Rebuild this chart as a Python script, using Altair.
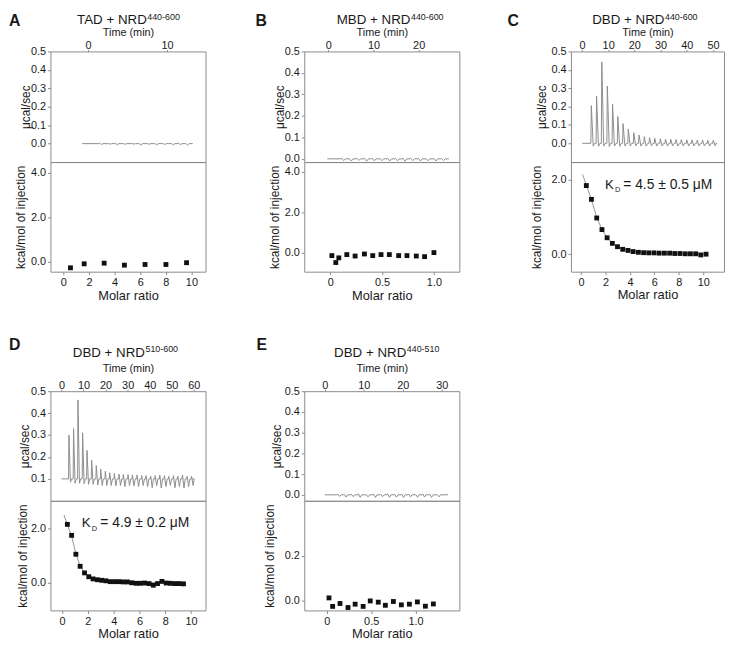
import altair as alt
import pandas as pd

FONT = "Liberation Sans"
FRAME = "#8a8a8a"
TRACE = "#8c8c8c"
FIT = "#8a8a8a"
TXT = "#1a1a1a"
PT = "#111111"

# ---------------- data ----------------
# Panel A  (TAD + NRD440-600)
A_inj_t = [1.4, 2.5, 3.4, 4.4, 5.5, 6.4, 7.4, 8.4, 9.4, 10.5, 11.4, 12.3]
A_inj_peak = [0.002, 0.001, 0.002, 0.001, 0.002, 0.001, 0.002, 0.001, 0.002, 0.001, 0.002, 0.001]
A_inj_dip = [-0.004, -0.003, -0.006, -0.004, -0.003, -0.008, -0.004, -0.006, -0.005, -0.007, -0.005, -0.008]
A_ratio = [0.56, 1.63, 3.19, 4.77, 6.38, 8.01, 9.62]
A_heat = [-0.27, -0.09, -0.06, -0.15, -0.12, -0.12, -0.04]

# Panel B  (MBD + NRD440-600)
B_inj_t = [2.8, 4.5, 6.2, 7.9, 9.6, 11.3, 13.0, 14.7, 16.4, 18.1, 19.8, 21.5, 23.2, 24.9]
B_inj_peak = [0.004, 0.002, 0.003, 0.002, 0.003, 0.002, 0.003, 0.002, 0.003, 0.002, 0.003, 0.002, 0.003, 0.002]
B_inj_dip = [-0.008, -0.010, -0.007, -0.011, -0.009, -0.008, -0.010, -0.009, -0.011, -0.008, -0.010, -0.009, -0.010, -0.008]
B_ratio = [0.016, 0.054, 0.083, 0.16, 0.24, 0.33, 0.41, 0.49, 0.57, 0.66, 0.74, 0.83, 0.91, 1.0]
B_heat = [-0.13, -0.47, -0.24, -0.08, -0.15, -0.05, -0.13, -0.08, -0.08, -0.13, -0.13, -0.15, -0.18, 0.02]

# Panel C  (DBD + NRD440-600)
C_inj_t = [3.4, 5.4, 7.4, 9.5, 11.5, 13.5, 15.5, 17.5, 19.6, 21.6, 23.6, 25.6,
           27.6, 29.7, 31.7, 33.7, 35.7, 37.7, 39.8, 41.8, 43.8, 45.8, 47.8, 49.9]
C_inj_peak = [0.205, 0.258, 0.443, 0.312, 0.214, 0.146, 0.107, 0.078, 0.058, 0.045, 0.036, 0.031,
              0.027, 0.025, 0.023, 0.022, 0.021, 0.020, 0.019, 0.019, 0.018, 0.018, 0.017, 0.017]
C_inj_dip = [-0.015, -0.016, -0.015, -0.017, -0.015, -0.016, -0.015, -0.015, -0.014, -0.015, -0.015, -0.014,
             -0.015, -0.014, -0.015, -0.014, -0.015, -0.014, -0.015, -0.014, -0.015, -0.014, -0.015, -0.014]
C_ratio = [0.43, 0.85, 1.28, 1.71, 2.13, 2.56, 2.98, 3.41, 3.84, 4.26, 4.69, 5.12,
           5.54, 5.97, 6.39, 6.82, 7.25, 7.67, 8.10, 8.53, 8.95, 9.38, 9.80, 10.23]
C_heat = [1.84, 1.47, 0.97, 0.66, 0.44, 0.29, 0.20, 0.13, 0.10, 0.07, 0.05, 0.04,
          0.035, 0.035, 0.027, 0.027, 0.027, 0.018, 0.018, 0.01, 0.01, 0.01, -0.02, 0.0]
C_fit_x = [0.12, 0.43, 0.85, 1.28, 1.71, 2.13, 2.56, 2.98, 3.5, 4.2, 5.0, 6.0, 7.0, 8.0, 9.0, 10.23]
C_fit_y = [2.14, 1.86, 1.46, 0.99, 0.66, 0.44, 0.29, 0.20, 0.13, 0.08, 0.05, 0.03, 0.02, 0.015, 0.01, 0.005]

# Panel D  (DBD + NRD510-600)
D_inj_t = [3.2, 5.3, 7.3, 9.4, 11.4, 13.5, 15.6, 17.6, 19.7, 21.7, 23.8, 25.9, 27.9, 30.0,
           32.0, 34.1, 36.2, 38.2, 40.3, 42.3, 44.4, 46.5, 48.5, 50.6, 52.6, 54.7, 56.8, 58.8]
D_inj_peak = [0.30, 0.33, 0.46, 0.31, 0.23, 0.185, 0.16, 0.145, 0.135, 0.128, 0.125, 0.122, 0.12, 0.12,
              0.118, 0.118, 0.115, 0.115, 0.112, 0.115, 0.118, 0.115, 0.112, 0.115, 0.112, 0.118, 0.112, 0.112]
D_inj_dip = [0.085, 0.08, 0.08, 0.078, 0.075, 0.075, 0.072, 0.07, 0.07, 0.07, 0.068, 0.07, 0.065, 0.07,
             0.068, 0.065, 0.07, 0.065, 0.06, 0.068, 0.058, 0.065, 0.07, 0.06, 0.065, 0.058, 0.065, 0.07]
D_ratio = [0.41, 0.74, 1.07, 1.40, 1.74, 2.07, 2.40, 2.74, 3.07, 3.40, 3.74, 4.07, 4.40, 4.74,
           5.07, 5.40, 5.74, 6.07, 6.40, 6.74, 7.07, 7.40, 7.74, 8.07, 8.40, 8.74, 9.07, 9.41]
D_heat = [2.14, 1.74, 1.05, 0.61, 0.37, 0.23, 0.15, 0.12, 0.10, 0.08, 0.05, 0.05, 0.05, 0.04,
          0.04, 0.01, -0.01, -0.01, 0.0, -0.02, -0.08, -0.02, 0.06, 0.0, -0.01, -0.02, -0.02, -0.03]
D_fit_x = [0.15, 0.41, 0.74, 1.07, 1.40, 1.74, 2.07, 2.40, 2.74, 3.4, 4.4, 5.4, 6.4, 7.4, 8.4, 9.41]
D_fit_y = [2.48, 2.12, 1.72, 1.07, 0.62, 0.38, 0.24, 0.16, 0.11, 0.07, 0.04, 0.02, 0.01, 0.01, 0.0, 0.0]

# Panel E  (DBD + NRD440-510)
E_inj_t = [3.2, 4.9, 6.7, 8.5, 10.5, 12.4, 14.2, 16.0, 17.8, 19.6, 21.4, 23.2, 25.0, 26.8, 28.7]
E_inj_peak = [0.004, 0.002, 0.003, 0.005, 0.002, 0.004, 0.003, 0.005, 0.002, 0.004, 0.003, 0.002, 0.004, 0.003, 0.002]
E_inj_dip = [-0.008, -0.011, -0.009, -0.012, -0.010, -0.013, -0.009, -0.012, -0.011, -0.013, -0.010, -0.012, -0.011, -0.013, -0.010]
E_ratio = [0.026, 0.067, 0.15, 0.24, 0.32, 0.41, 0.49, 0.58, 0.66, 0.75, 0.84, 0.93, 1.02, 1.11, 1.2]
E_heat = [0.012, -0.026, -0.013, -0.031, -0.016, -0.026, -0.0015, -0.007, -0.021, -0.004, -0.019, -0.016, -0.006, -0.025, -0.015]

ONE = pd.DataFrame({"k": [0]})


def trace_df(t0, t1, base, inj_t, inj_peak, inj_dip, w):
    ts, ps = [t0], [base]
    for t, h, d in zip(inj_t, inj_peak, inj_dip):
        ts += [t, t + 0.12 * w, t + 0.6 * w, t + w]
        ps += [base, h, d, base]
    ts.append(t1)
    ps.append(base)
    return pd.DataFrame({"t": ts, "p": ps, "i": list(range(len(ts)))})


def ax(**kw):
    base = dict(grid=False, domain=False, tickColor=FRAME, tickWidth=1,
                labelFont=FONT, labelFontSize=11, labelColor=TXT,
                titleFont=FONT, titleFontWeight="normal", titleColor=TXT)
    base.update(kw)
    return alt.Axis(**base)


def txt(s, x, y, size, weight="normal", align="left", baseline="top"):
    return alt.Chart(ONE).mark_text(
        text=s, font=FONT, fontSize=size, fontWeight=weight, align=align,
        baseline=baseline, color=TXT
    ).encode(x=alt.value(x), y=alt.value(y))


def heading(letter, lx, ly, main, sup, jx, my, sy):
    return [txt(letter, lx, ly, 16, weight="bold"),
            txt(main, jx, my, 13.5, align="right"),
            txt(sup, jx + 0.5, sy, 9)]


def top_panel(df, xdom, xticks, ydom, yticks, ytx, tty, texts, w, h):
    line = alt.Chart(df).mark_line(color=TRACE, strokeWidth=1).encode(
        x=alt.X("t:Q", scale=alt.Scale(domain=xdom, nice=False, zero=False),
                axis=ax(orient="top", values=xticks, format="d", title="Time (min)",
                        tickSize=2, labelPadding=0.5, labelBaseline="alphabetic",
                        titleFontSize=11, titleY=tty, titleBaseline="alphabetic")),
        y=alt.Y("p:Q", scale=alt.Scale(domain=ydom, nice=False, zero=False),
                axis=ax(orient="left", values=yticks, format=".1f", title="μcal/sec",
                        tickSize=3, labelPadding=2, titleFontSize=12,
                        titleX=ytx, titleBaseline="alphabetic")),
        order="i:Q",
    )
    return alt.layer(line, *texts).properties(width=w, height=h)


def bottom_panel(rx, ry, xdom, xticks, ydom, yticks, ytx, mty, w, h,
                 fit=None, texts=(), decimal_x=False):
    if decimal_x:
        lab = "datum.value == 0 ? '0' : format(datum.value, '.1f')"
    else:
        lab = "format(datum.value, 'd')"
    xenc = alt.X("x:Q", scale=alt.Scale(domain=xdom, nice=False, zero=False),
                 axis=ax(orient="bottom", values=xticks, labelExpr=lab, title="Molar ratio",
                         tickSize=3, labelPadding=2, titleFontSize=13,
                         titleY=mty, titleBaseline="alphabetic"))
    yenc = alt.Y("y:Q", scale=alt.Scale(domain=ydom, nice=False, zero=False),
                 axis=ax(orient="left", values=yticks, format=".1f",
                         title="kcal/mol of injection", tickSize=3, labelPadding=2,
                         titleFontSize=12, titleX=ytx, titleBaseline="alphabetic"))
    layers = []
    if fit is not None:
        fdf = pd.DataFrame({"x": fit[0], "y": fit[1]})
        layers.append(alt.Chart(fdf).mark_line(color=FIT, strokeWidth=0.9).encode(x=xenc, y=yenc))
    pdf = pd.DataFrame({"x": rx, "y": ry})
    layers.append(alt.Chart(pdf).mark_point(shape="square", filled=True, size=24,
                                            color=PT, opacity=1).encode(x=xenc, y=yenc))
    layers += list(texts)
    return alt.layer(*layers).properties(width=w, height=h)


def blank(w, h):
    return alt.Chart(ONE).mark_point(opacity=0, size=1).encode(
        x=alt.value(0), y=alt.value(0)
    ).properties(width=w, height=h, view=alt.ViewBackground(stroke="transparent"))


def kd(label, kx, ky, sx, sy, ex):
    return [txt("K", kx, ky, 13.5, baseline="alphabetic"),
            txt("D", sx, sy, 7.5, baseline="alphabetic"),
            txt(label, ex, ky, 14, baseline="alphabetic")]


TOP_Y = [0.0, 0.1, 0.2, 0.3, 0.4, 0.5]
R1 = -39     # heading top, first row (relative to plot top)

A_top = top_panel(trace_df(-0.75, 13.25, 0.0, A_inj_t, A_inj_peak, A_inj_dip, 0.5),
                  [-4.75, 14.87], [0, 10], [-0.1, 0.5], TOP_Y, -21, -16,
                  heading("A", -42, R1, "TAD + NRD", "440-600", 97.5, R1, R1), 157, 112)
A_bot = bottom_panel(A_ratio, A_heat, [-1.0, 11.1], [0, 2, 4, 6, 8, 10],
                     [-0.444, 4.49], [0, 2, 4], -26, 28, 157, 111)

B_top = top_panel(trace_df(-0.2, 26.7, 0.0, B_inj_t, B_inj_peak, B_inj_dip, 1.0),
                  [-5.3, 29.0], [0, 10, 20], [-0.015, 0.5], TOP_Y, -21, -16,
                  heading("B", -49.3, R1, "MBD + NRD", "440-600", 107.5, R1, R1), 157, 112)
B_bot = bottom_panel(B_ratio, B_heat, [-0.25, 1.245], [0, 0.5, 1.0],
                     [-0.92, 4.47], [0, 2, 4], -26, 28, 157, 111, decimal_x=True)

C_top = top_panel(trace_df(0.1, 50.9, 0.0, C_inj_t, C_inj_peak, C_inj_dip, 1.5),
                  [-4.2, 54.2], [0, 10, 20, 30, 40, 50], [-0.102, 0.5], TOP_Y, -26, -16,
                  heading("C", -64.3, R1, "DBD + NRD", "440-600", 94.7, R1, R1), 155, 112)
C_bot = bottom_panel(C_ratio, C_heat, [-0.83, 11.7], [0, 2, 4, 6, 8, 10],
                     [-0.47, 2.47], [0, 2], -31, 27.5, 155, 111,
                     fit=(C_fit_x, C_fit_y),
                     texts=kd("= 4.5 ± 0.5 μM", 34.5, 27, 44.5, 30.5, 53))

D_top = top_panel(trace_df(0.0, 59.2, 0.1, D_inj_t, D_inj_peak, D_inj_dip, 1.4),
                  [-5.0, 65.3], [0, 10, 20, 30, 40, 50, 60], [0.0, 0.5],
                  [0.1, 0.2, 0.3, 0.4, 0.5], -22, -19.5,
                  heading("D", -42, -54.3, "DBD + NRD", "510-600", 95.7, -45.7, -47.1), 157, 111)
D_bot = bottom_panel(D_ratio, D_heat, [-0.9, 11.12], [0, 2, 4, 6, 8, 10],
                     [-1.0, 3.0], [0, 2], -24, 27, 157, 111,
                     fit=(D_fit_x, D_fit_y),
                     texts=kd("= 4.9 ± 0.2 μM", 31.7, 27, 41.7, 31, 50.5))

E_top = top_panel(trace_df(0.0, 31.6, 0.0, E_inj_t, E_inj_peak, E_inj_dip, 1.0),
                  [-5.24, 34.5], [0, 10, 20, 30], [-0.029, 0.5], TOP_Y, -24, -19.5,
                  heading("E", -48.3, -54.3, "DBD + NRD", "440-510", 103.3, -45.7, -47.1), 157, 111)
E_bot = bottom_panel(E_ratio, E_heat, [-0.252, 1.492], [0, 0.5, 1.0],
                     [-0.044, 0.446], [0, 0.2], -31, 27, 157, 111, decimal_x=True)

cells = [
    A_top, blank(100, 1), B_top, blank(113, 1), C_top,
    A_bot, blank(1, 1), B_bot, blank(1, 1), C_bot,
    blank(1, 121), blank(1, 1), blank(1, 1), blank(1, 1), blank(1, 1),
    D_top, blank(1, 1), E_top, blank(1, 1), blank(1, 1),
    D_bot, blank(1, 1), E_bot, blank(1, 1), blank(1, 1),
]

chart = alt.concat(*cells, columns=5, spacing=0, bounds="flush", align="each").properties(
    padding=0
).configure_view(stroke=FRAME, strokeWidth=1)

chart.save("out.html", embed_options={"renderer": "svg", "actions": False})
